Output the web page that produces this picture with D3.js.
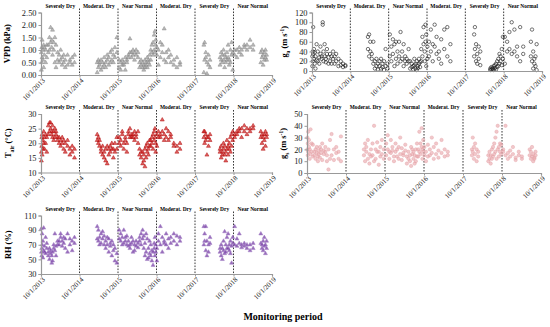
<!DOCTYPE html>
<html>
<head>
<meta charset="utf-8">
<script src="https://cdn.jsdelivr.net/npm/d3@7/dist/d3.min.js"></script>
<style>
 body { margin: 0; background: #fff; }
 text { font-family: "Liberation Serif", "Times New Roman", serif; }
</style>
</head>
<body>
<div id="chart"></div>
<script>
// measurement dates (decimal years), two readings per date in each series
var dates = [
 2013.76, 2013.77, 2013.78, 2013.80, 2013.82, 2013.84, 2013.87, 2013.90,
 2013.94, 2013.97, 2014.00, 2014.03, 2014.05, 2014.08, 2014.11, 2014.14, 2014.18,
 2014.22, 2014.26, 2014.30, 2014.34, 2014.38, 2014.44, 2014.50, 2014.56, 2014.62,
 2015.21, 2015.24, 2015.27, 2015.31, 2015.35, 2015.39, 2015.43, 2015.47, 2015.51, 2015.55, 2015.59, 2015.63, 2015.67, 2015.72,
 2015.78, 2015.82, 2015.86, 2015.90, 2015.94, 2015.98,
 2016.02, 2016.06, 2016.10, 2016.14, 2016.18, 2016.22, 2016.27,
 2016.31, 2016.35, 2016.39, 2016.42, 2016.45, 2016.48, 2016.51, 2016.54, 2016.57,
 2016.60, 2016.63, 2016.66, 2016.69, 2016.71, 2016.73, 2016.76,
 2016.80, 2016.85, 2016.90, 2016.95, 2017.00, 2017.06, 2017.12, 2017.20, 2017.28, 2017.36,
 2017.98, 2018.00, 2018.03, 2018.06, 2018.10, 2018.14,
 2018.40, 2018.43, 2018.46, 2018.49, 2018.52, 2018.55, 2018.58, 2018.61, 2018.64, 2018.67, 2018.70, 2018.73,
 2018.78, 2018.84, 2018.90, 2018.96, 2019.03, 2019.10, 2019.18, 2019.26,
 2019.46, 2019.49, 2019.52, 2019.55, 2019.58, 2019.61
];

var vpd = [
 [0.9,0.2],[1.1,0.5],[1.4,0.7],[0.6,1.0],[1.2,0.3],[0.8,1.1],[1.0,0.5],[0.7,1.2],
 [1.2,0.9],[1.5,1.0],[1.9,1.3],[1.1,1.4],[1.8,0.8],[1.3,1.0],[1.5,0.5],[1.2,0.3],[0.9,0.6],
 [0.8,0.5],[0.6,1.0],[0.4,0.7],[0.5,0.8],[0.6,0.3],[0.8,0.4],[0.5,0.6],[0.7,0.4],[0.8,0.5],
 [0.5,0.1],[0.6,0.3],[0.4,0.5],[0.2,0.6],[0.5,0.3],[0.7,0.4],[0.3,0.5],[0.6,0.8],[0.4,0.7],[0.9,0.5],[0.6,1.0],[0.8,0.5],[1.1,0.7],[1.5,0.9],
 [0.3,0.6],[0.5,0.2],[0.6,0.4],[0.4,0.5],[0.2,0.7],[0.6,0.5],
 [0.8,0.7],[1.45,0.9],[0.9,0.7],[0.8,1.0],[0.6,0.9],[1.0,0.8],[0.7,0.9],
 [0.5,0.3],[0.4,0.6],[0.3,0.5],[0.2,0.4],[0.6,0.3],[0.4,0.5],[0.7,0.3],[0.5,0.6],[0.8,0.4],
 [1.0,0.6],[0.9,1.2],[1.3,0.8],[1.6,1.0],[1.75,0.9],[1.2,1.4],[0.8,1.1],
 [1.0,0.4],[1.3,0.7],[1.2,0.9],[1.85,0.6],[0.9,0.5],[0.7,1.0],[0.5,0.8],[0.6,0.4],[0.3,0.7],[0.5,0.4],
 [1.2,0.1],[1.3,0.6],[0.7,0.9],[0.5,0.05],[0.8,0.4],[0.6,0.3],
 [0.7,0.4],[0.9,0.6],[0.5,0.8],[0.6,1.0],[0.8,0.3],[0.7,0.5],[0.9,0.6],[1.2,0.7],[0.6,0.4],[1.0,0.5],[1.3,0.8],[0.9,0.2],
 [0.8,1.0],[1.0,0.7],[0.9,1.1],[1.0,0.8],[1.1,1.2],[1.2,1.0],[1.4,1.1],[1.2,1.0],
 [0.5,0.9],[0.7,1.0],[0.8,0.4],[0.6,0.9],[1.0,0.7],[0.8,0.6]
];

var ga = [
 [30,10],[40,20],[90,35],[25,45],[15,38],[30,5],[55,22],[20,40],
 [28,15],[35,50],[25,30],[95,100],[20,40],[30,55],[25,18],[35,45],[15,28],
 [20,35],[30,15],[25,40],[15,30],[35,20],[10,25],[12,20],[15,8],[10,12],
 [45,70],[75,30],[60,40],[25,35],[60,15],[20,5],[25,10],[15,3],[10,20],[25,5],[15,8],[20,2],[10,45],[5,15],
 [75,30],[20,50],[35,65],[55,10],[25,60],[15,40],
 [60,30],[80,20],[40,25],[55,10],[30,20],[25,15],[45,20],
 [20,5],[15,8],[10,3],[25,12],[5,15],[20,2],[10,6],[15,25],[8,18],
 [20,45],[70,30],[55,90],[40,20],[95,60],[75,10],[50,25],
 [60,30],[85,40],[55,20],[95,50],[35,70],[40,25],[65,15],[85,45],[30,90],[55,20],
 [75,30],[90,45],[55,20],[15,35],[25,50],[40,12],
 [5,2],[8,3],[4,6],[10,2],[6,12],[15,3],[20,8],[25,10],[15,35],[30,20],[45,12],[70,25],
 [70,15],[60,40],[45,80],[100,35],[85,40],[50,30],[90,20],[35,50],
 [60,30],[85,20],[40,5],[15,25],[30,10],[55,2]
];

var tair = [
 [17,14],[19,22],[23,16],[21,18],[24,20],[18,22],[20,23],[22,17],
 [23,26],[24,27],[27,25],[24,23],[26,22],[24,21],[22,25],[23,24],[21,22],
 [20,22],[21,19],[22,20],[21,18],[20,17],[19,21],[18,16],[17,19],[15,18],
 [21,23],[20,22],[19,21],[18,17],[16,19],[17,15],[18,14],[13,19],[16,18],[19,17],[18,20],[15,18],[20,17],[18,22],
 [22,20],[21,19],[23,24],[18,20],[22,21],[20,17],
 [23,24],[25,22],[23,22],[22,23],[21,24],[23,22],[24,20],
 [18,16],[15,17],[17,13],[16,14],[18,12],[15,19],[17,20],[16,18],[19,21],
 [21,19],[20,22],[23,18],[24,21],[22,25],[20,17],[23,19],
 [24,22],[22,23],[24,28],[23,21],[22,25],[21,24],[22,23],[20,19],[19,17],[18,20],
 [22,24],[24,20],[21,23],[16,22],[22,19],[23,21],
 [18,17],[19,15],[17,16],[18,20],[16,19],[17,14],[18,21],[19,16],[20,18],[22,17],[23,19],[24,21],
 [22,23],[23,24],[24,25],[25,22],[26,24],[25,23],[24,25],[26,25],
 [24,22],[23,20],[22,18],[21,23],[24,19],[23,22]
];

var gs = [
 [20,30],[15,25],[35,18],[22,28],[12,20],[37,16],[18,25],[24,14],
 [15,18],[20,12],[17,22],[14,10],[19,16],[22,13],[17,20],[25,11],[16,19],
 [18,22],[10,15],[20,3],[28,12],[15,33],[11,20],[22,17],[18,12],[31,10],
 [15,20],[25,10],[18,22],[12,28],[8,16],[20,14],[15,25],[40,10],[12,20],[26,18],[18,7],[14,22],[28,16],[20,12],
 [15,25],[20,32],[12,18],[28,17],[19,22],[14,10],
 [18,25],[20,14],[12,22],[16,30],[21,11],[15,17],[19,24],
 [14,8],[18,12],[10,15],[22,6],[16,20],[12,18],[8,15],[20,10],[14,25],
 [20,14],[35,18],[16,25],[38,22],[12,20],[18,28],[22,15],
 [18,10],[24,14],[15,20],[30,17],[22,12],[16,25],[19,13],[28,17],[14,20],[18,15],
 [15,20],[30,18],[22,12],[25,16],[10,20],[18,14],
 [10,15],[12,18],[15,8],[20,12],[14,22],[25,16],[18,30],[35,12],[40,20],[22,14],[18,25],[16,24],
 [20,18],[15,40],[12,17],[19,14],[22,16],[11,13],[15,18],[12,14],
 [15,20],[12,18],[22,14],[10,16],[13,12],[18,15]
];

var rh = [
 [60,92],[65,55],[70,85],[52,75],[93,62],[60,68],[80,58],[72,65],
 [60,55],[65,50],[58,62],[45,55],[60,48],[70,65],[85,62],[55,68],[75,70],
 [70,75],[80,85],[75,68],[80,72],[65,78],[85,60],[78,70],[62,75],[80,72],
 [95,78],[90,75],[80,70],[72,85],[78,88],[82,70],[65,75],[70,80],[60,78],[72,68],[55,75],[62,70],[48,65],[45,58],
 [90,78],[85,75],[70,80],[90,72],[75,80],[82,70],
 [75,68],[70,65],[80,72],[60,75],[70,62],[75,68],[66,72],
 [80,75],[70,85],[90,78],[65,82],[55,72],[60,85],[50,78],[65,52],[75,58],
 [55,70],[48,62],[42,60],[65,72],[55,80],[70,60],[48,65],
 [85,75],[95,70],[60,80],[75,72],[70,85],[65,78],[80,72],[85,75],[70,82],[75,80],
 [95,70],[75,85],[95,62],[55,75],[70,60],[80,72],
 [60,65],[70,55],[65,50],[75,62],[88,58],[60,70],[80,65],[65,85],[62,70],[75,58],[68,45],[80,72],
 [95,70],[78,68],[72,85],[70,66],[68,72],[65,70],[70,62],[72,65],
 [85,72],[65,70],[62,75],[80,68],[70,58],[75,65]
];

var yearTicks = [2013.75, 2014.75, 2015.75, 2016.75, 2017.75, 2018.75, 2019.75];
var tickLabels = ["10/1/2013", "10/1/2014", "10/1/2015", "10/1/2016", "10/1/2017", "10/1/2018", "10/1/2019"];
var periodLabels = ["Severely Dry", "Moderat. Dry", "Near Normal", "Moderat. Dry", "Severely Dry", "Near Normal"];

var vpdTicks = [0, 0.5, 1, 1.5, 2, 2.5];
var gaTicks = [0, 20, 40, 60, 80, 100, 120];
var tairTicks = [10, 15, 20, 25, 30];
var gsTicks = [0, 10, 20, 30, 40, 50];
var rhTicks = [30, 50, 70, 90, 110];

var svg = d3.select("#chart").append("svg").attr("width", 550).attr("height", 327);

var panels = [
 {values: vpd, ticks: vpdTicks, fmt: d3.format(".2f"), box: [41, 272, 12.5, 75], shape: "tri",
  fill: "#9a9a9a", stroke: "#8a8a8a", title: [["VPD (kPa)", ""]], tx: 10},
 {values: ga, ticks: gaTicks, fmt: d3.format("d"), box: [312, 542, 12.5, 71], shape: "circ",
  fill: "none", stroke: "#1a1a1a", title: [["g", ""], ["a", "sub"], [" (m s", ""], ["-1", "sup"], [")", ""]], tx: 287},
 {values: tair, ticks: tairTicks, fmt: d3.format("d"), box: [41, 272, 114, 172.5], shape: "tri",
  fill: "#d01c1c", stroke: "#b01010", title: [["T", ""], ["air", "sub"], [" (°C)", ""]], tx: 11},
 {values: gs, ticks: gsTicks, fmt: d3.format("d"), box: [307, 541, 114, 173], shape: "circ",
  fill: "#e8a4a8", stroke: "#e3a0a4", title: [["g", ""], ["s", "sub"], [" (m s", ""], ["-1", "sup"], [")", ""]], tx: 286},
 {values: rh, ticks: rhTicks, fmt: d3.format("d"), box: [41, 272, 215.5, 274], shape: "tri",
  fill: "#6c2d9c", stroke: "#a07cc4", title: [["RH (%)", ""]], tx: 11}
];

panels.forEach(function(p)
{
 var left = p.box[0], right = p.box[1], top = p.box[2], bottom = p.box[3];
 var x = d3.scaleLinear().domain([yearTicks[0], yearTicks[6]]).range([left, right]);
 var y = d3.scaleLinear().domain([p.ticks[0], p.ticks[p.ticks.length - 1]]).range([bottom, top]);
 var g = svg.append("g");

 //dashed separators between the years
 g.selectAll("line.sep").data(yearTicks.slice(1, 6)).enter().append("line")
  .attr("x1", function(d) { return x(d); }).attr("x2", function(d) { return x(d); })
  .attr("y1", top - 4).attr("y2", bottom)
  .attr("stroke", "#222").attr("stroke-width", 0.9).attr("stroke-dasharray", "1.6,1.4");

 //drought class headers
 g.selectAll("text.head").data(periodLabels).enter().append("text")
  .attr("x", function(d, i) { return (x(yearTicks[i]) + x(yearTicks[i + 1])) / 2; })
  .attr("y", top - 5)
  .attr("text-anchor", "middle").attr("font-size", 5.4).attr("font-weight", "bold")
  .text(function(d) { return d; });

 //points
 var pts = [];
 dates.forEach(function(d, i)
 {
  p.values[i].forEach(function(v) { pts.push([d, v]); });
 });
 var mk = g.append("g");
 if (p.shape == "tri")
 {
  mk.selectAll("path").data(pts).enter().append("path")
   .attr("d", d3.symbol().type(d3.symbolTriangle).size(7))
   .attr("transform", function(d) { return "translate(" + x(d[0]) + "," + y(d[1]) + ")"; })
   .attr("fill", p.fill).attr("fill-opacity", 0.7)
   .attr("stroke", p.stroke).attr("stroke-width", 0.5);
 }
 else
 {
  mk.selectAll("circle").data(pts).enter().append("circle")
   .attr("cx", function(d) { return x(d[0]); }).attr("cy", function(d) { return y(d[1]); })
   .attr("r", 1.7)
   .attr("fill", p.fill).attr("fill-opacity", 0.6)
   .attr("stroke", p.stroke).attr("stroke-width", p.fill == "none" ? 0.6 : 0.4);
 }

 //axes
 var ya = g.append("g").attr("transform", "translate(" + left + ",0)")
  .call(d3.axisLeft(y).tickValues(p.ticks).tickFormat(p.fmt).tickSize(2.5).tickPadding(2));
 ya.selectAll("text").attr("font-size", 8.4).attr("fill", "#222")
  .style("font-family", '"Liberation Serif", serif');

 var xa = g.append("g").attr("transform", "translate(0," + bottom + ")")
  .call(d3.axisBottom(x).tickValues(yearTicks).tickFormat(function(d, i) { return tickLabels[i]; }).tickSize(2.5));
 xa.selectAll("text").attr("font-size", 7).attr("fill", "#222")
  .style("font-family", '"Liberation Serif", serif')
  .attr("text-anchor", "end").attr("dy", 0).attr("y", 0)
  .attr("transform", "translate(4,6) rotate(-45)");

 g.selectAll(".domain").attr("stroke", "#999").attr("stroke-width", 1.2);
 g.selectAll(".tick line").attr("stroke", "#999");

 //y axis title
 var t = g.append("text")
  .attr("transform", "translate(" + p.tx + "," + ((top + bottom) / 2) + ") rotate(-90)")
  .attr("text-anchor", "middle").attr("font-size", 8.4).attr("font-weight", "bold");
 p.title.forEach(function(s)
 {
  var ts = t.append("tspan").text(s[0]);
  if (s[1] == "sub") ts.attr("baseline-shift", "sub").attr("font-size", 5.6);
  if (s[1] == "sup") ts.attr("baseline-shift", "super").attr("font-size", 5.6);
 });
});

svg.append("text").attr("x", 283).attr("y", 320)
 .attr("text-anchor", "middle").attr("font-size", 10).attr("font-weight", "bold")
 .text("Monitoring period");
</script>
</body>
</html>
